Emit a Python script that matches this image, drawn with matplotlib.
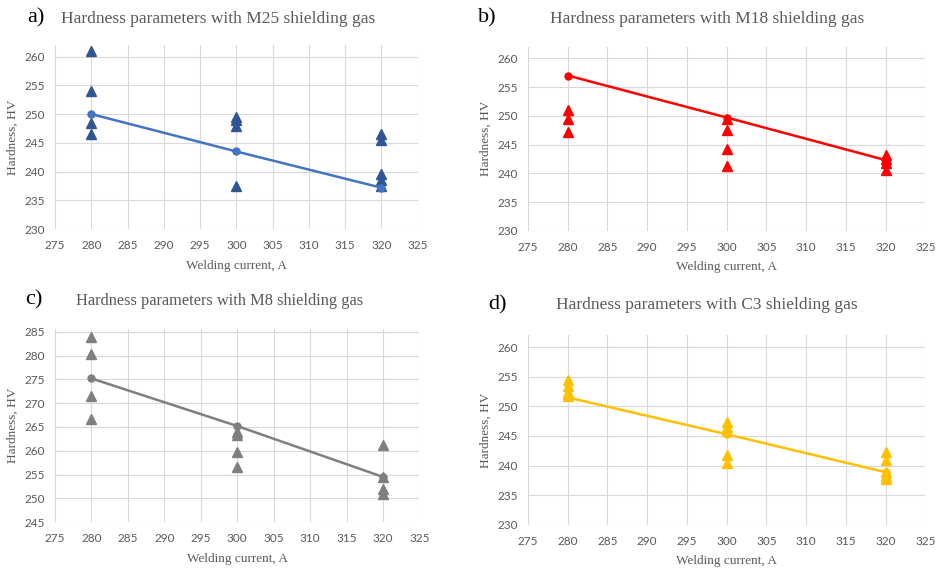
import matplotlib.pyplot as plt

currents = [280, 300, 320]

# panel a) M25
m25_280 = [261, 254, 248.5, 246.5]
m25_300 = [249.5, 249, 248, 237.5]
m25_320 = [246.5, 245.5, 239.5, 238.5, 237.5]
m25_mean = [250, 243.5, 237.2]

# panel b) M18
m18_280 = [251, 249.5, 247.2]
m18_300 = [249.5, 247.5, 244.3, 241.3]
m18_320 = [243.2, 242.5, 241.8, 240.5]
m18_mean = [257, 249.7, 242.3]

# panel c) M8
m8_280 = [284, 280.3, 271.5, 266.7]
m8_300 = [264, 263.3, 259.8, 256.5]
m8_320 = [261.3, 254.5, 252, 251]
m8_mean = [275.2, 265.2, 254.5]

# panel d) C3
c3_280 = [254.5, 253.5, 252.5, 252, 251.8]
c3_300 = [247.3, 246.5, 245.8, 241.8, 240.5]
c3_320 = [242.3, 241, 239, 238.2, 237.7]
c3_mean = [251.5, 245.3, 238.9]

x_ticks = list(range(275, 330, 5))

# tag, gas, groups, mean, line colour, marker colour, ylim, yticks, axes rect,
# tag (x, y) px, title (cx, y) px, title size
panels = [
    ("a)", "M25", [m25_280, m25_300, m25_320], m25_mean, "#4472C4", "#2F5597",
     (230, 262), list(range(230, 265, 5)), [0.0587, 0.598, 0.387, 0.323],
     (27, 18), (218, 19), 12.5),
    ("b)", "M18", [m18_280, m18_300, m18_320], m18_mean, "#FF0000", "#FF0000",
     (230, 262), list(range(230, 265, 5)), [0.5635, 0.595, 0.424, 0.323],
     (478, 18), (707, 19), 12.5),
    ("c)", "M8", [m8_280, m8_300, m8_320], m8_mean, "#7F7F7F", "#7F7F7F",
     (245, 285.5), list(range(245, 290, 5)), [0.0587, 0.084, 0.389, 0.338],
     (25, 300), (220, 301), 11.8),
    ("d)", "C3", [c3_280, c3_300, c3_320], c3_mean, "#FFC000", "#FFC000",
     (230, 262), list(range(230, 265, 5)), [0.5635, 0.079, 0.424, 0.333],
     (488, 305), (707, 305), 12.5),
]

W, H = 937, 570
fig = plt.figure(figsize=(W / 100, H / 100), dpi=100)
serif = "Liberation Serif"
grey = "#595959"

for tag, gas, groups, means, line_col, tri_col, ylim, yticks, pos, tag_xy, title_xy, tsize in panels:
    ax = fig.add_axes(pos)
    for x, vals in zip(currents, groups):
        ax.plot([x] * len(vals), vals, linestyle="none", marker="^", markersize=7,
                color=tri_col, zorder=3)
    ax.plot(currents, means, color=line_col, linewidth=1.8, marker="o",
            markersize=5, zorder=4)
    ax.set_xlim(275, 325)
    ax.set_ylim(*ylim)
    ax.set_xticks(x_ticks)
    ax.set_yticks(yticks)
    ax.grid(True, color="#D9D9D9", linewidth=0.8)
    ax.set_axisbelow(True)
    for s in ax.spines.values():
        s.set_visible(False)
    ax.tick_params(axis="x", length=0, labelsize=8.5, labelcolor=grey, pad=8)
    ax.tick_params(axis="y", length=0, labelsize=8.5, labelcolor=grey, pad=7)
    for lab in ax.get_xticklabels() + ax.get_yticklabels():
        lab.set_family("Lato")
    ax.set_xlabel("Welding current, A", family=serif, fontsize=9.5, color=grey, labelpad=6)
    ax.set_ylabel("Hardness, HV", family=serif, fontsize=9.5, color=grey, labelpad=4)

    fig.text(tag_xy[0] / W, 1 - tag_xy[1] / H, tag, family=serif, fontsize=16,
             ha="left", va="center", color="black")
    fig.text(title_xy[0] / W, 1 - title_xy[1] / H,
             "Hardness parameters with %s shielding gas" % gas,
             family=serif, fontsize=tsize, ha="center", va="center", color=grey)

fig.savefig("out.png", dpi=100)
